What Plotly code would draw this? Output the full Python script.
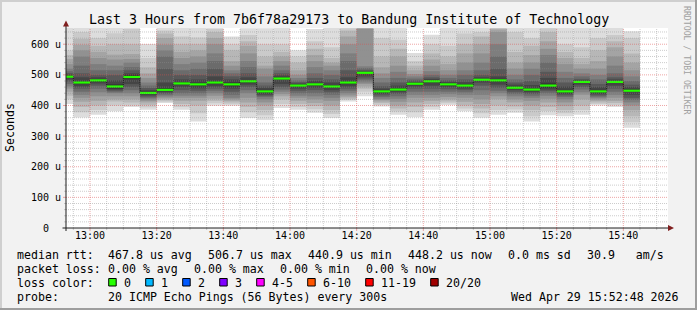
import numpy as np
import pandas as pd
import plotly.graph_objects as go

# ---------------- data ----------------
slot_start = pd.date_range("2026-04-29 12:50", periods=35, freq="5min")   # 5-min RRD steps

median_us = [494, 475, 482, 462, 493, 440.9, 451, 472, 469, 475, 469, 479, 446, 488, 465,
             469, 462, 475, 506.7, 446, 452, 471, 479, 469, 465, 484, 482, 458, 452, 465,
             446, 477, 446, 477, 448.2]

# 20 sorted ping RTTs (us) per step, lowest to highest
pings_us = [
    [405, 420, 432, 445, 455, 462, 470, 478, 485, 491, 497, 501, 506, 512, 520, 535, 552, 565, 580, 653],
    [361, 378, 395, 412, 425, 435, 445, 455, 462, 470, 480, 492, 505, 530, 560, 580, 598, 618, 640, 653],
    [370, 385, 400, 415, 430, 443, 455, 465, 472, 479, 485, 492, 500, 515, 535, 555, 575, 595, 620, 653],
    [381, 400, 413, 420, 430, 440, 443, 448, 452, 455, 469, 482, 500, 515, 530, 550, 566, 600, 636, 653],
    [395, 400, 410, 420, 430, 440, 450, 460, 470, 486, 500, 505, 515, 525, 540, 552, 568, 600, 650, 653],
    [386, 394, 402, 410, 415, 420, 425, 429, 433, 437, 445, 450, 457, 465, 475, 490, 505, 525, 555, 601],
    [408, 412, 416, 420, 425, 430, 435, 439, 443, 447, 457, 475, 520, 560, 580, 598, 620, 635, 645, 653],
    [386, 395, 405, 415, 425, 432, 440, 450, 460, 468, 476, 485, 500, 515, 535, 555, 575, 600, 625, 653],
    [348, 375, 400, 415, 425, 432, 440, 448, 456, 463, 474, 485, 500, 520, 540, 560, 580, 600, 622, 653],
    [399, 407, 415, 422, 432, 440, 448, 455, 462, 470, 480, 495, 520, 545, 570, 600, 620, 640, 650, 653],
    [399, 404, 410, 415, 420, 425, 435, 445, 455, 462, 475, 485, 495, 505, 515, 530, 545, 580, 600, 625],
    [359, 378, 395, 410, 425, 440, 450, 460, 468, 475, 483, 492, 505, 525, 545, 570, 595, 610, 630, 652],
    [353, 368, 385, 400, 410, 420, 428, 432, 436, 441, 451, 458, 465, 475, 495, 520, 530, 560, 600, 652],
    [392, 405, 420, 430, 437, 445, 452, 460, 470, 484, 492, 498, 505, 515, 530, 545, 560, 575, 600, 653],
    [386, 395, 405, 415, 425, 432, 440, 448, 455, 461, 468, 472, 476, 482, 490, 500, 515, 540, 560, 580],
    [376, 388, 398, 408, 420, 430, 440, 450, 458, 465, 472, 480, 490, 505, 525, 545, 565, 585, 610, 650],
    [359, 372, 385, 400, 415, 425, 435, 443, 450, 457, 466, 475, 485, 500, 515, 530, 540, 555, 590, 653],
    [413, 418, 422, 427, 433, 440, 448, 455, 462, 470, 480, 492, 515, 545, 570, 600, 625, 645, 652, 653],
    [430, 445, 455, 462, 470, 475, 482, 488, 495, 504, 509, 512, 516, 522, 528, 650, 652, 653, 653, 653],
    [397, 402, 408, 413, 418, 422, 428, 433, 438, 443, 449, 455, 463, 475, 490, 505, 525, 560, 620, 653],
    [370, 380, 390, 400, 412, 422, 430, 438, 443, 448, 457, 465, 475, 490, 510, 530, 560, 585, 615, 653],
    [362, 378, 395, 410, 425, 435, 445, 455, 462, 469, 474, 477, 482, 488, 495, 503, 515, 530, 545, 571],
    [386, 395, 405, 415, 425, 435, 445, 455, 465, 475, 483, 487, 492, 500, 512, 530, 550, 570, 600, 631],
    [402, 407, 413, 420, 428, 437, 445, 453, 460, 466, 472, 477, 482, 490, 500, 515, 535, 560, 595, 653],
    [381, 390, 400, 412, 425, 435, 443, 450, 455, 461, 470, 476, 485, 500, 515, 540, 570, 600, 635, 653],
    [360, 375, 390, 405, 420, 435, 450, 465, 475, 481, 487, 492, 500, 515, 540, 570, 600, 625, 640, 653],
    [370, 385, 400, 420, 430, 440, 448, 458, 468, 477, 487, 495, 520, 560, 600, 640, 648, 651, 652, 653],
    [376, 387, 397, 410, 420, 430, 437, 443, 450, 455, 462, 468, 475, 485, 500, 520, 540, 575, 640, 653],
    [348, 365, 385, 400, 415, 425, 432, 438, 443, 447, 457, 467, 480, 500, 520, 540, 565, 595, 620, 653],
    [368, 382, 395, 410, 422, 432, 440, 447, 452, 458, 472, 490, 510, 540, 565, 585, 610, 640, 652, 653],
    [365, 375, 385, 398, 410, 420, 428, 433, 437, 441, 451, 462, 475, 490, 510, 535, 555, 575, 600, 653],
    [370, 385, 400, 420, 435, 443, 452, 460, 468, 474, 480, 483, 487, 495, 505, 520, 535, 555, 590, 653],
    [400, 405, 410, 415, 420, 425, 429, 433, 437, 441, 451, 460, 470, 485, 500, 520, 545, 580, 620, 653],
    [395, 401, 408, 415, 425, 435, 445, 455, 465, 474, 480, 485, 492, 505, 530, 560, 590, 610, 630, 653],
    [327, 345, 365, 385, 400, 410, 418, 425, 435, 444, 453, 460, 468, 480, 495, 515, 540, 570, 620, 642],
]

y_tick_vals = [0, 100, 200, 300, 400, 500, 600]
y_tick_text = ["0\u00a0\u00a0", "100 u", "200 u", "300 u", "400 u", "500 u", "600 u"]
x_tick_vals = pd.date_range("2026-04-29 13:00", "2026-04-29 15:40", freq="20min")

title_text = "Last 3 Hours from 7b6f78a29173 to Bandung Institute of Technology"
legend_lines = [
    # (x px, y px, text)
    (16, 254.5, "median rtt:"), (107.3, 254.5, "467.8 us avg"), (207.3, 254.5, "506.7 us max"),
    (307.3, 254.5, "440.9 us min"), (407.3, 254.5, "448.2 us now"), (507.3, 254.5, "0.0 ms sd"),
    (586.3, 254.5, "30.9   am/s"),
    (16, 268.5, "packet loss:"), (107.3, 268.5, "0.00 % avg"), (193.3, 268.5, "0.00 % max"),
    (279.3, 268.5, "0.00 % min"), (365.3, 268.5, "0.00 % now"),
    (16, 282.5, "loss color:"),
    (16, 296.5, "probe:"), (107.3, 296.5, "20 ICMP Echo Pings (56 Bytes) every 300s"),
]
loss_labels = ["0", "1", "2", "3", "4-5", "6-10", "11-19", "20/20"]
loss_colors = ["#26ff00", "#00b8ff", "#0059ff", "#7e00ff", "#ff00ff", "#ff5500", "#ff0000", "#a00000"]
date_text = "Wed Apr 29 15:52:48 2026"

# ---------------- geometry ----------------
W, H = 697, 310
L, R, T, B = 66, 31, 28, 82
PW, PH = W - L - R, H - T - B
MONO = "DejaVu Sans Mono"


def px(xp):
    return (xp - L) / PW


def py(yp):
    return (T + PH - yp) / PH


step_ms = 300000
step_td = pd.Timedelta(minutes=5)
centers = slot_start + pd.Timedelta(seconds=150)
P = np.array(pings_us, dtype=float)
med = np.array(median_us, dtype=float)

fig = go.Figure()

# smoke: band between ping i and ping (21-i), darker towards the middle
half = 10
for i in range(half):
    c = int(190 / half * (half - (i + 1))) + 50
    lo = P[:, i]
    hi = P[:, 19 - i]
    fig.add_trace(go.Bar(x=centers, y=hi - lo, base=lo, width=step_ms,
                         marker=dict(color=f"rgb({c},{c},{c})", line=dict(width=0)),
                         hoverinfo="skip", showlegend=False))

# dark median step line
step_x = list(slot_start) + [slot_start[-1] + step_td]
step_y = list(med) + [med[-1]]
fig.add_trace(go.Scatter(x=step_x, y=step_y, mode="lines",
                         line=dict(shape="hv", color="#202020", width=1),
                         hoverinfo="skip", showlegend=False))

# median coloured by loss (0 loss -> green), one horizontal segment per step
seg_x, seg_y = [], []
for t0, m in zip(slot_start, med):
    seg_x += [t0, t0 + step_td, None]
    seg_y += [m, m, None]
fig.add_trace(go.Scatter(x=seg_x, y=seg_y, mode="lines", connectgaps=False,
                         line=dict(color=loss_colors[0], width=2.2),
                         hoverinfo="skip", showlegend=False))

shapes = []
GRID = "rgba(143,143,143,0.45)"
MGRID = "rgba(222,79,79,0.5)"
DASH = "1px,1px"
# white canvas slight extension
shapes.append(dict(type="rect", xref="paper", yref="paper", x0=1, x1=px(668), y0=0, y1=1,
                   fillcolor="white", line=dict(width=0), layer="below"))
# vertical grid
for t in pd.date_range("2026-04-29 12:55", "2026-04-29 15:50", freq="5min"):
    major = (t.minute % 20 == 0)
    shapes.append(dict(type="line", xref="x", yref="paper", x0=t, x1=t, y0=0, y1=1,
                       line=dict(color=MGRID if major else GRID, width=1, dash=DASH), layer="above"))
    shapes.append(dict(type="line", xref="x", yref="paper", x0=t, x1=t, y0=py(228), y1=py(231 if major else 230),
                       line=dict(color=MGRID if major else GRID, width=1), layer="above"))
# horizontal grid
for v in range(20, 653, 20):
    major = (v % 100 == 0)
    shapes.append(dict(type="line", xref="paper", yref="y", x0=0, x1=px(668), y0=v, y1=v,
                       line=dict(color=MGRID if major else GRID, width=1, dash=DASH), layer="above"))
    shapes.append(dict(type="line", xref="paper", yref="y", x0=px(63 if major else 64), x1=0, y0=v, y1=v,
                       line=dict(color=MGRID if major else GRID, width=1), layer="above"))
# axes with arrows
AX = "#1f1f1f"
ARROW = "#801f1f"
shapes.append(dict(type="line", xref="paper", yref="paper", x0=px(62.5), x1=px(668), y0=0, y1=0,
                   line=dict(color=AX, width=1), layer="above"))
shapes.append(dict(type="line", xref="paper", yref="paper", x0=0, x1=0, y0=py(231), y1=py(25),
                   line=dict(color=AX, width=1), layer="above"))
shapes.append(dict(type="path", xref="paper", yref="paper",
                   path=f"M {px(63)} {py(26.5)} L {px(69)} {py(26.5)} L {px(66)} {py(20.5)} Z",
                   fillcolor=ARROW, line=dict(width=0), layer="above"))
shapes.append(dict(type="path", xref="paper", yref="paper",
                   path=f"M {px(668)} {py(225)} L {px(668)} {py(231)} L {px(674)} {py(228)} Z",
                   fillcolor=ARROW, line=dict(width=0), layer="above"))
# 3D frame
shapes += [
    dict(type="rect", xref="paper", yref="paper", x0=px(0), x1=px(W), y0=py(0), y1=py(2),
         fillcolor="#cfcfcf", line=dict(width=0)),
    dict(type="rect", xref="paper", yref="paper", x0=px(0), x1=px(2), y0=py(0), y1=py(H),
         fillcolor="#cfcfcf", line=dict(width=0)),
    dict(type="rect", xref="paper", yref="paper", x0=px(0), x1=px(W), y0=py(H - 2), y1=py(H),
         fillcolor="#9e9e9e", line=dict(width=0)),
    dict(type="rect", xref="paper", yref="paper", x0=px(W - 2), x1=px(W), y0=py(0), y1=py(H),
         fillcolor="#9e9e9e", line=dict(width=0)),
]

annotations = []
LEG = 11.6


def nb(s):
    return s.replace(" ", "\u00a0")


for xp, yp, txt in legend_lines:
    annotations.append(dict(text=nb(txt), x=px(xp - 1), y=py(yp), xref="paper", yref="paper",
                            xanchor="left", yanchor="middle", showarrow=False,
                            font=dict(family=MONO, size=LEG, color="black")))
# loss colour legend boxes
bx = 108.7
for lab, col in zip(loss_labels, loss_colors):
    shapes.append(dict(type="rect", xref="paper", yref="paper", x0=px(bx), x1=px(bx + 7.5),
                       y0=py(278.5), y1=py(286), fillcolor=col, line=dict(color="black", width=1)))
    annotations.append(dict(text=nb(lab), x=px(bx + 14.7 - 1), y=py(282.5), xref="paper", yref="paper",
                            xanchor="left", yanchor="middle", showarrow=False,
                            font=dict(family=MONO, size=LEG, color="black")))
    bx = bx + 14.7 + 7.0 * len(lab) + 15.3
annotations.append(dict(text=nb(date_text), x=px(681), y=py(296.5), xref="paper", yref="paper",
                        xanchor="right", yanchor="middle", showarrow=False,
                        font=dict(family=MONO, size=LEG, color="black")))
annotations.append(dict(text=nb(title_text), x=px(348.5), y=py(19), xref="paper", yref="paper",
                        xanchor="center", yanchor="middle", showarrow=False,
                        font=dict(family=MONO, size=13.3, color="black")))
annotations.append(dict(text="Seconds", x=px(10), y=py(128), xref="paper", yref="paper",
                        xanchor="center", yanchor="middle", showarrow=False, textangle=-90,
                        font=dict(family=MONO, size=LEG, color="black")))
annotations.append(dict(text=nb("RRDTOOL / TOBI OETIKER"), x=px(687), y=py(60), xref="paper", yref="paper",
                        xanchor="center", yanchor="middle", showarrow=False, textangle=90,
                        font=dict(family=MONO, size=8.2, color="#a0a0a0")))

fig.update_layout(
    width=W, height=H, margin=dict(l=L, r=R, t=T, b=B, pad=0),
    paper_bgcolor="#f2f2f2", plot_bgcolor="white",
    barmode="overlay", showlegend=False,
    shapes=shapes, annotations=annotations,
    xaxis=dict(type="date", range=["2026-04-29 12:52:48", "2026-04-29 15:52:48"],
               tickvals=list(x_tick_vals), ticktext=[t.strftime("%H:%M") for t in x_tick_vals],
               showgrid=False, zeroline=False, showline=False, ticks="",
               tickfont=dict(family=MONO, size=10, color="black"), fixedrange=True),
    yaxis=dict(range=[0, 653], tickvals=y_tick_vals, ticktext=y_tick_text,
               showgrid=False, zeroline=False, showline=False, ticks="",
               ticklabelstandoff=4,
               tickfont=dict(family=MONO, size=10, color="black"), fixedrange=True),
)

fig.write_html("out.html")
